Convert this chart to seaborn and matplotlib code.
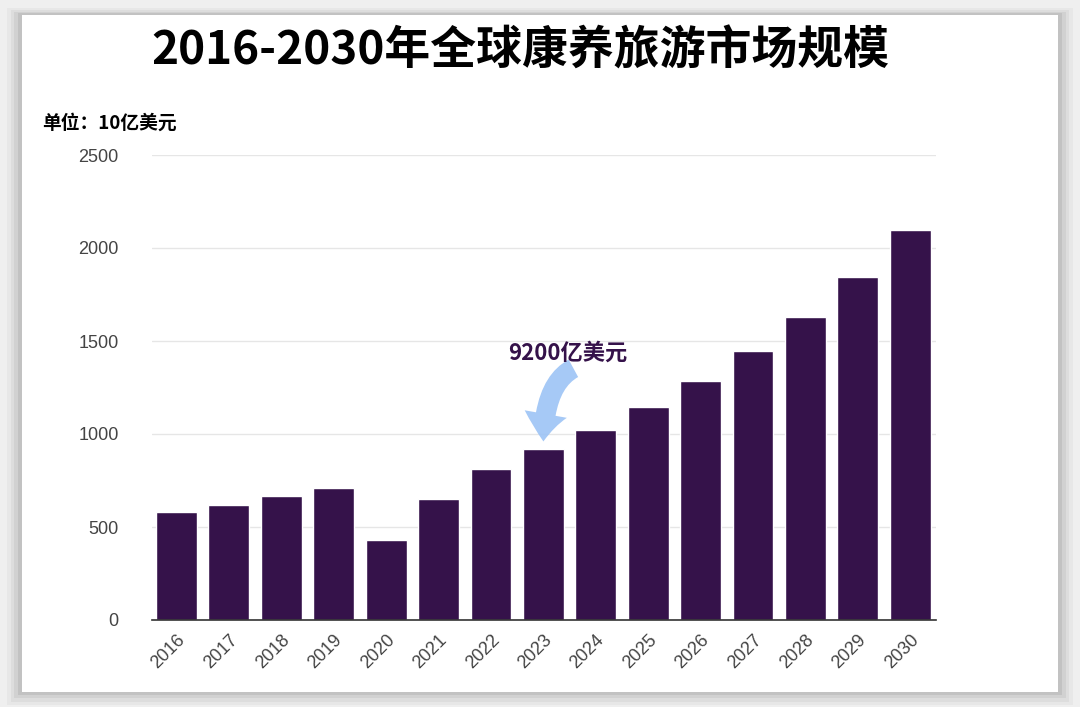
import matplotlib.pyplot as plt
import matplotlib.patches as mpatches
import pandas as pd
import seaborn as sns

years = ["2016", "2017", "2018", "2019", "2020", "2021", "2022", "2023",
         "2024", "2025", "2026", "2027", "2028", "2029", "2030"]
market = [580, 617, 665, 710, 430, 650, 810, 920,
          1020, 1145, 1285, 1445, 1630, 1845, 2095]
y_ticks = [0, 500, 1000, 1500, 2000, 2500]

title = "2016-2030年全球康养旅游市场规模"
unit_label = "单位：10亿美元"
note_text = "9200亿美元"
note_year = "2023"

df = pd.DataFrame({"year": years, "value": market})

sns.set_theme(style="white")
plt.rcParams["font.family"] = ["Noto Sans CJK SC", "DejaVu Sans"]

fig = plt.figure(figsize=(10.8, 7.07), dpi=100, facecolor="#efefef")

# white card with a soft shadow
for i, a in enumerate([0.03, 0.04, 0.05, 0.07]):
    d = (4 - i) * 0.0035
    fig.patches.append(mpatches.Rectangle(
        (22 / 1080 - d, 15 / 707 - d * 1.3), 1036 / 1080 + 2 * d, 677 / 707 + 2 * d,
        transform=fig.transFigure, facecolor="black", alpha=a,
        edgecolor="none", zorder=0))
fig.patches.append(mpatches.Rectangle(
    (22 / 1080, 15 / 707), 1036 / 1080, 677 / 707,
    transform=fig.transFigure, facecolor="white", edgecolor="none", zorder=1))

ax = fig.add_axes([152 / 1080, 1 - 620 / 707, 784 / 1080, 465 / 707])
ax.set_facecolor("none")
ax.set_zorder(2)

sns.barplot(data=df, x="year", y="value", color="#35124a", width=0.78,
            saturation=1, ax=ax)

ax.set_ylim(0, 2500)
ax.set_yticks(y_ticks)
ax.set_xlim(-0.466, len(years) - 0.51)
ax.yaxis.grid(True, color="#e6e6e6", linewidth=1)
ax.set_axisbelow(True)
for s in ["top", "right", "left"]:
    ax.spines[s].set_visible(False)
ax.spines["bottom"].set_color("#333333")
ax.spines["bottom"].set_linewidth(1.2)
ax.set_xlabel("")
ax.set_ylabel("")
ax.tick_params(axis="y", labelsize=13, labelcolor="#444444", length=0, pad=24)
ax.tick_params(axis="x", labelsize=13, labelcolor="#444444", length=0, pad=8)
for lab in ax.get_yticklabels():
    lab.set_family(["Liberation Sans", "DejaVu Sans"])
for lab in ax.get_xticklabels():
    lab.set_family(["Liberation Sans", "DejaVu Sans"])
    lab.set_rotation(45)
    lab.set_ha("right")
    lab.set_rotation_mode("anchor")

fig.text(520 / 1080, 1 - 52 / 707, title, ha="center", va="center", fontsize=33,
         fontweight="bold", color="black")
fig.text(42 / 1080, 1 - 123 / 707, unit_label, ha="left", va="center",
         fontsize=13.5, fontweight="bold", color="black")

# callout arrow for 2023
xi = years.index(note_year)
yi = market[xi]
ax.annotate("", xy=(xi, yi + 25), xytext=(xi + 0.62, yi + 440),
            arrowprops=dict(arrowstyle="simple,head_length=0.9,head_width=1.4,tail_width=0.65",
                            connectionstyle="angle3,angleA=25,angleB=90",
                            color="#9cc3f5", alpha=0.9, lw=0, mutation_scale=22))
ax.text(xi + 0.46, yi + 515, note_text, ha="center", va="center", fontsize=16,
        fontweight="bold", color="#35124a")

fig.savefig("out.png", dpi=100, facecolor=fig.get_facecolor())
